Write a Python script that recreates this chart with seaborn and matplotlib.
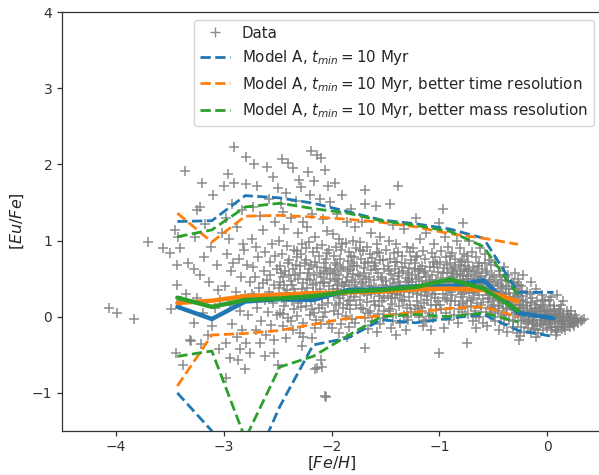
import matplotlib
matplotlib.use("Agg")
import matplotlib.pyplot as plt
import pandas as pd
import seaborn as sns


# observed stars: ([Fe/H], [Eu/Fe])
stars = [
    (-4.06, 0.12), (-3.99, 0.05), (-3.83, -0.03), (-3.70, 0.98), (-3.56, 0.90), (-3.50, 0.83),
    (-3.41, 0.90), (-3.43, 0.68), (-3.33, 0.70), (-3.43, 0.42), (-3.49, 0.10), (-3.44, -0.48),
    (-3.38, -0.63), (-3.31, -0.30), (-3.45, 1.14), (-3.42, 1.05), (-3.36, 1.91), (-3.35, 0.30),
    (-3.40, 0.20),
    (-3.28, -0.08), (-3.30, -0.32), (-3.21, -0.36), (-3.15, -0.24), (-3.25, 0.25), (-3.22, 0.55),
    (-3.18, 0.78), (-3.12, 0.92), (-3.27, 1.05), (-3.20, 1.75), (-3.22, 1.44), (-3.25, 1.40),
    (-3.10, 1.60), (-3.05, 0.35), (-3.08, 0.12), (-3.14, 0.45), (-3.04, -0.43), (-3.06, 0.68),
    (-3.17, 1.22), (-3.02, 1.10), (-3.28, 0.62), (-3.11, -0.12), (-3.03, 0.22), (-3.19, 0.05),
    (-2.90, 2.23), (-2.79, 2.10), (-2.96, 1.87), (-2.90, 1.76), (-2.79, 1.74), (-3.00, 1.72),
    (-2.92, 1.48), (-2.83, 1.40), (-2.98, 1.30), (-2.88, 1.18), (-2.95, 1.02), (-2.82, 0.95),
    (-2.97, 0.82), (-2.86, 0.76), (-2.78, 0.68), (-2.93, 0.60), (-2.84, 0.52), (-2.76, 0.45),
    (-2.99, 0.40), (-2.89, 0.33), (-2.80, 0.28), (-2.94, 0.15), (-2.85, 0.08), (-2.77, 0.02),
    (-2.92, -0.10), (-2.83, -0.18), (-2.88, -0.26), (-2.98, -0.35), (-2.85, -0.43), (-2.79, -0.34),
    (-2.76, -0.47), (-2.94, -0.54), (-2.87, -0.57), (-2.80, -0.69), (-2.98, -0.80), (-2.81, 0.88),
    (-2.91, 0.70),
    (-2.72, 2.00), (-2.60, 1.96), (-2.54, 1.84), (-2.69, 1.72), (-2.50, 1.69), (-2.73, 1.44),
    (-2.64, 1.14), (-2.58, 1.55), (-2.66, 1.32), (-2.52, 1.25), (-2.74, 1.02), (-2.70, 0.92),
    (-2.62, 0.85), (-2.55, 0.96), (-2.68, 0.78), (-2.57, 0.72), (-2.73, 0.65), (-2.63, 0.60),
    (-2.51, 0.63), (-2.71, 0.52), (-2.60, 0.48), (-2.53, 0.42), (-2.67, 0.38), (-2.58, 0.33),
    (-2.72, 0.27), (-2.62, 0.22), (-2.54, 0.18), (-2.69, 0.12), (-2.59, 0.06), (-2.51, 0.02),
    (-2.65, -0.05), (-2.56, -0.11), (-2.70, -0.17), (-2.61, -0.24), (-2.53, -0.30), (-2.62, -0.52),
    (-2.53, -0.48), (-2.50, -0.63), (-2.66, -0.35), (-2.57, 0.55), (-2.64, 0.44), (-2.52, 0.80),
    (-2.74, 0.30), (-2.55, 0.27),
    (-2.46, 2.07), (-2.40, 2.02), (-2.36, 1.95), (-2.45, 1.37), (-2.30, 1.80), (-2.42, 1.62),
    (-2.33, 1.52), (-2.28, 1.70), (-2.47, 1.48), (-2.38, 1.30), (-2.26, 1.25), (-2.44, 1.15),
    (-2.31, 1.10), (-2.49, 1.00), (-2.41, 0.93), (-2.35, 0.88), (-2.27, 0.95), (-2.46, 0.82),
    (-2.39, 0.75), (-2.32, 0.78), (-2.25, 0.70), (-2.48, 0.66), (-2.43, 0.60), (-2.36, 0.63),
    (-2.29, 0.57), (-2.45, 0.52), (-2.38, 0.47), (-2.31, 0.50), (-2.26, 0.44), (-2.49, 0.38),
    (-2.41, 0.35), (-2.34, 0.31), (-2.27, 0.36), (-2.46, 0.25), (-2.37, 0.20), (-2.30, 0.24),
    (-2.44, 0.14), (-2.35, 0.10), (-2.28, 0.13), (-2.48, 0.05), (-2.40, -0.02), (-2.32, 0.01),
    (-2.26, -0.08), (-2.45, -0.12), (-2.36, -0.18), (-2.29, -0.22), (-2.42, -0.28), (-2.27, -0.39),
    (-2.26, -0.26), (-2.33, 0.68), (-2.39, 0.55), (-2.44, 0.42), (-2.28, 0.82),
    (-2.19, 2.18), (-2.13, 2.12), (-2.10, 2.08), (-2.22, 1.90), (-2.06, 1.92), (-2.16, 1.78),
    (-2.03, 1.72), (-2.20, 1.60), (-2.11, 1.55), (-2.01, 1.50), (-2.18, 1.35), (-2.08, 1.28),
    (-2.23, 1.18), (-2.04, 1.12), (-2.15, 1.05), (-2.21, 0.98), (-2.09, 0.94), (-2.02, 0.88),
    (-2.17, 0.85), (-2.12, 0.80), (-2.05, 0.76), (-2.24, 0.74), (-2.19, 0.68), (-2.13, 0.65),
    (-2.07, 0.70), (-2.01, 0.62), (-2.22, 0.58), (-2.16, 0.55), (-2.10, 0.52), (-2.04, 0.56),
    (-2.20, 0.48), (-2.14, 0.44), (-2.08, 0.46), (-2.02, 0.40), (-2.23, 0.38), (-2.17, 0.33),
    (-2.11, 0.36), (-2.05, 0.30), (-2.21, 0.26), (-2.15, 0.22), (-2.09, 0.25), (-2.03, 0.18),
    (-2.24, 0.14), (-2.18, 0.10), (-2.12, 0.12), (-2.06, 0.06), (-2.20, 0.02), (-2.14, -0.04),
    (-2.08, -0.01), (-2.02, -0.09), (-2.15, -0.15), (-2.00, -0.15), (-2.13, -0.67), (-2.09, -0.66),
    (-2.15, -0.69), (-2.10, -0.57), (-2.06, -1.04), (-2.05, -1.06), (-2.18, -0.28), (-2.07, 0.60),
    (-2.13, 0.90),
    (-1.97, 1.75), (-1.90, 1.60), (-1.82, 1.42), (-1.95, 1.35), (-1.86, 1.25), (-1.78, 1.18),
    (-1.99, 1.08), (-1.93, 1.02), (-1.87, 0.97), (-1.80, 1.00), (-1.96, 0.92), (-1.91, 0.88),
    (-1.84, 0.85), (-1.77, 0.90), (-1.98, 0.80), (-1.92, 0.76), (-1.85, 0.73), (-1.79, 0.78),
    (-1.95, 0.68), (-1.89, 0.65), (-1.83, 0.62), (-1.76, 0.66), (-1.99, 0.58), (-1.93, 0.55),
    (-1.86, 0.52), (-1.80, 0.56), (-1.97, 0.47), (-1.90, 0.44), (-1.84, 0.42), (-1.78, 0.46),
    (-1.95, 0.37), (-1.88, 0.34), (-1.82, 0.31), (-1.76, 0.36), (-1.98, 0.27), (-1.92, 0.24),
    (-1.85, 0.21), (-1.79, 0.26), (-1.96, 0.16), (-1.89, 0.12), (-1.83, 0.10), (-1.77, 0.15),
    (-1.94, 0.04), (-1.87, 0.01), (-1.81, -0.03), (-1.91, -0.10), (-1.84, -0.14), (-1.78, -0.08),
    (-1.93, -0.22), (-1.86, -0.27), (-1.97, 0.60), (-1.81, 0.70), (-1.88, 0.40), (-1.94, 0.30),
    (-1.69, 1.66), (-1.69, 1.48), (-1.59, 1.45), (-1.72, 1.25), (-1.63, 1.10), (-1.55, 1.05),
    (-1.74, 0.98), (-1.67, 0.92), (-1.58, 0.95), (-1.71, 0.86), (-1.64, 0.82), (-1.56, 0.84),
    (-1.73, 0.76), (-1.66, 0.72), (-1.60, 0.70), (-1.52, 0.74), (-1.70, 0.64), (-1.63, 0.61),
    (-1.57, 0.58), (-1.51, 0.62), (-1.74, 0.54), (-1.68, 0.50), (-1.61, 0.48), (-1.54, 0.52),
    (-1.72, 0.43), (-1.65, 0.40), (-1.59, 0.38), (-1.52, 0.42), (-1.70, 0.33), (-1.63, 0.30),
    (-1.56, 0.27), (-1.74, 0.22), (-1.67, 0.19), (-1.60, 0.16), (-1.53, 0.20), (-1.71, 0.10),
    (-1.64, 0.07), (-1.57, 0.04), (-1.51, 0.08), (-1.69, -0.02), (-1.62, -0.06), (-1.55, -0.09),
    (-1.66, -0.16), (-1.58, -0.20), (-1.69, -0.41), (-1.73, 0.35), (-1.61, 0.66), (-1.55, 0.34),
    (-1.38, 1.71), (-1.46, 1.48), (-1.43, 1.20), (-1.33, 1.15), (-1.47, 1.00), (-1.40, 0.96),
    (-1.30, 0.92), (-1.49, 0.88), (-1.42, 0.84), (-1.35, 0.80), (-1.27, 0.85), (-1.46, 0.76),
    (-1.39, 0.72), (-1.32, 0.70), (-1.26, 0.74), (-1.48, 0.66), (-1.41, 0.62), (-1.34, 0.60),
    (-1.28, 0.64), (-1.45, 0.56), (-1.38, 0.53), (-1.31, 0.51), (-1.25, 0.55), (-1.49, 0.47),
    (-1.42, 0.44), (-1.36, 0.42), (-1.29, 0.45), (-1.46, 0.37), (-1.39, 0.35), (-1.33, 0.32),
    (-1.27, 0.36), (-1.48, 0.27), (-1.41, 0.24), (-1.35, 0.22), (-1.28, 0.26), (-1.44, 0.17),
    (-1.37, 0.14), (-1.30, 0.12), (-1.47, 0.07), (-1.40, 0.04), (-1.33, 0.02), (-1.26, 0.06),
    (-1.43, -0.05), (-1.36, -0.08), (-1.29, -0.04), (-1.40, -0.24), (-1.45, -0.15), (-1.31, -0.17),
    (-1.37, 0.58), (-1.44, 0.31),
    (-1.22, 1.30), (-1.12, 1.10), (-1.00, 1.23), (-1.18, 1.02), (-1.05, 0.95), (-1.24, 0.90),
    (-1.15, 0.86), (-1.07, 0.84), (-1.21, 0.80), (-1.13, 0.76), (-1.04, 0.78), (-1.23, 0.70),
    (-1.16, 0.67), (-1.09, 0.65), (-1.02, 0.69), (-1.20, 0.60), (-1.14, 0.57), (-1.07, 0.55),
    (-1.01, 0.59), (-1.22, 0.50), (-1.16, 0.47), (-1.10, 0.45), (-1.03, 0.48), (-1.19, 0.40),
    (-1.12, 0.38), (-1.06, 0.36), (-1.24, 0.32), (-1.17, 0.29), (-1.11, 0.27), (-1.04, 0.30),
    (-1.21, 0.21), (-1.14, 0.18), (-1.08, 0.16), (-1.01, 0.20), (-1.23, 0.10), (-1.16, 0.08),
    (-1.10, 0.05), (-1.03, 0.09), (-1.19, -0.01), (-1.12, -0.04), (-1.06, -0.02), (-1.15, -0.12),
    (-1.00, -0.48), (-1.08, -0.18), (-1.18, 0.63), (-1.05, 0.42), (-1.13, 0.33), (-1.20, 0.14),
    (-0.97, 1.41), (-0.78, 1.23), (-0.95, 1.05), (-0.84, 1.00), (-0.92, 0.92), (-0.81, 0.90),
    (-0.98, 0.86), (-0.88, 0.84), (-0.77, 0.82), (-0.94, 0.78), (-0.85, 0.76), (-0.79, 0.74),
    (-0.99, 0.72), (-0.90, 0.70), (-0.82, 0.68), (-0.76, 0.66), (-0.96, 0.64), (-0.87, 0.62),
    (-0.80, 0.60), (-0.93, 0.57), (-0.84, 0.55), (-0.78, 0.53), (-0.98, 0.51), (-0.89, 0.49),
    (-0.81, 0.47), (-0.75, 0.50), (-0.95, 0.44), (-0.86, 0.42), (-0.79, 0.40), (-0.91, 0.37),
    (-0.83, 0.35), (-0.77, 0.33), (-0.97, 0.30), (-0.88, 0.28), (-0.80, 0.26), (-0.93, 0.22),
    (-0.85, 0.20), (-0.78, 0.18), (-0.99, 0.15), (-0.90, 0.12), (-0.82, 0.10), (-0.76, 0.13),
    (-0.94, 0.05), (-0.86, 0.02), (-0.79, 0.06), (-0.91, -0.04), (-0.83, -0.08), (-0.74, -0.34),
    (-0.96, -0.15), (-0.87, 0.58), (-0.92, 0.46), (-0.81, 0.38), (-0.89, 0.32), (-0.77, 0.44),
    (-0.72, 1.00), (-0.62, 0.90), (-0.70, 0.85), (-0.58, 0.82), (-0.66, 0.78), (-0.54, 0.75),
    (-0.73, 0.72), (-0.63, 0.70), (-0.52, 0.68), (-0.69, 0.65), (-0.60, 0.63), (-0.74, 0.60),
    (-0.65, 0.58), (-0.56, 0.60), (-0.71, 0.55), (-0.61, 0.53), (-0.51, 0.55), (-0.68, 0.50),
    (-0.58, 0.48), (-0.73, 0.46), (-0.64, 0.44), (-0.54, 0.45), (-0.70, 0.41), (-0.60, 0.39),
    (-0.51, 0.40), (-0.67, 0.36), (-0.57, 0.34), (-0.72, 0.31), (-0.63, 0.29), (-0.53, 0.30),
    (-0.69, 0.25), (-0.59, 0.23), (-0.74, 0.20), (-0.65, 0.18), (-0.55, 0.19), (-0.71, 0.14),
    (-0.61, 0.12), (-0.52, 0.13), (-0.67, 0.08), (-0.57, 0.06), (-0.73, 0.03), (-0.63, 0.00),
    (-0.53, 0.02), (-0.69, -0.05), (-0.59, -0.08), (-0.66, -0.15), (-0.56, -0.12), (-0.62, 0.47),
    (-0.55, 0.37), (-0.68, 0.33), (-0.50, 0.22),
    (-0.48, 0.72), (-0.40, 0.65), (-0.30, 0.58), (-0.45, 0.60), (-0.36, 0.55), (-0.27, 0.50),
    (-0.49, 0.52), (-0.42, 0.48), (-0.33, 0.45), (-0.26, 0.42), (-0.46, 0.43), (-0.38, 0.40),
    (-0.30, 0.37), (-0.50, 0.36), (-0.43, 0.33), (-0.35, 0.31), (-0.28, 0.28), (-0.47, 0.28),
    (-0.39, 0.25), (-0.31, 0.22), (-0.25, 0.20), (-0.44, 0.21), (-0.36, 0.18), (-0.29, 0.15),
    (-0.49, 0.15), (-0.41, 0.12), (-0.33, 0.10), (-0.26, 0.08), (-0.46, 0.07), (-0.38, 0.04),
    (-0.30, 0.02), (-0.43, -0.01), (-0.35, -0.04), (-0.27, -0.06), (-0.48, -0.05), (-0.40, -0.10),
    (-0.32, -0.13), (-0.45, -0.18), (-0.37, -0.20), (-0.28, -0.22), (-0.41, 0.38), (-0.34, 0.26),
    (-0.45, 0.30), (-0.26, -0.30),
    (-0.22, 0.55), (-0.15, 0.45), (-0.24, 0.40), (-0.10, 0.36), (-0.19, 0.33), (-0.05, 0.28),
    (-0.23, 0.27), (-0.14, 0.24), (-0.02, 0.20), (-0.20, 0.19), (-0.11, 0.16), (-0.04, 0.13),
    (-0.24, 0.12), (-0.16, 0.10), (-0.08, 0.08), (-0.01, 0.06), (-0.21, 0.05), (-0.13, 0.03),
    (-0.06, 0.01), (-0.23, -0.01), (-0.17, -0.03), (-0.10, -0.04), (-0.03, -0.06), (-0.20, -0.08),
    (-0.14, -0.10), (-0.07, -0.11), (-0.24, -0.13), (-0.18, -0.15), (-0.11, -0.16), (-0.04, -0.17),
    (-0.21, -0.20), (-0.15, -0.22), (-0.08, -0.21), (-0.25, -0.25), (-0.12, 0.00), (-0.19, 0.08),
    (-0.06, 0.15), (-0.16, 0.30), (-0.09, 0.21), (-0.02, -0.02), (-0.22, 0.16), (-0.13, -0.06),
    (-0.10, -0.27),
    (0.09, 0.29), (0.15, 0.20), (0.02, 0.22), (0.06, 0.14), (0.12, 0.10), (0.18, 0.08),
    (0.01, 0.09), (0.04, 0.04), (0.08, 0.02), (0.13, 0.00), (0.20, -0.02), (0.25, -0.04),
    (0.03, -0.03), (0.07, -0.06), (0.11, -0.07), (0.16, -0.09), (0.22, -0.08), (0.28, -0.05),
    (0.32, -0.04), (0.02, -0.10), (0.05, -0.13), (0.10, -0.14), (0.14, -0.16), (0.21, -0.13),
    (0.04, -0.18), (0.09, -0.20), (0.17, -0.17), (0.24, -0.10), (0.31, -0.06), (0.06, 0.07),
    (0.12, 0.05), (0.19, 0.03), (0.01, 0.00), (0.15, -0.04), (0.26, 0.02), (0.08, -0.24),
    (0.13, 0.15), (0.22, 0.07), (0.03, 0.16),
]

# the crowded band along the median trend
stars_band = [
    (-2.47, 0.58), (-2.43, 0.31), (-2.40, 0.71), (-2.37, 0.42), (-2.34, 0.55), (-2.31, 0.18),
    (-2.29, 0.66), (-2.25, 0.29), (-2.23, 0.49), (-2.21, 0.63), (-2.19, 0.21), (-2.17, 0.41),
    (-2.15, 0.72), (-2.13, 0.30), (-2.11, 0.58), (-2.09, 0.15), (-2.07, 0.44), (-2.05, 0.64),
    (-2.03, 0.27), (-2.01, 0.50), (-2.45, 0.04), (-2.38, -0.06), (-2.32, 0.86), (-2.24, 0.90),
    (-2.16, 0.05), (-2.10, -0.10), (-2.04, 0.84), (-2.48, 0.46), (-2.42, 0.20), (-2.35, 0.37),
    (-1.99, 0.36), (-1.97, 0.70), (-1.95, 0.50), (-1.93, 0.18), (-1.91, 0.62), (-1.89, 0.29),
    (-1.87, 0.45), (-1.85, 0.60), (-1.83, 0.22), (-1.81, 0.48), (-1.79, 0.66), (-1.77, 0.32),
    (-1.75, 0.55), (-1.73, 0.12), (-1.71, 0.45), (-1.69, 0.70), (-1.67, 0.28), (-1.65, 0.52),
    (-1.63, 0.40), (-1.61, 0.20), (-1.59, 0.62), (-1.57, 0.35), (-1.55, 0.75), (-1.53, 0.50),
    (-1.51, 0.25), (-1.98, 0.08), (-1.90, 0.95), (-1.82, 0.80), (-1.74, 0.88), (-1.66, 0.05),
    (-1.58, 0.85), (-1.52, -0.02), (-1.94, 0.42), (-1.86, 0.16), (-1.78, 0.39), (-1.70, 0.58),
    (-1.62, 0.77), (-1.56, 0.14),
    (-1.49, 0.40), (-1.47, 0.60), (-1.45, 0.25), (-1.43, 0.50), (-1.41, 0.72), (-1.39, 0.30),
    (-1.37, 0.46), (-1.35, 0.65), (-1.33, 0.20), (-1.31, 0.40), (-1.29, 0.57), (-1.27, 0.15),
    (-1.25, 0.45), (-1.23, 0.62), (-1.21, 0.30), (-1.19, 0.52), (-1.17, 0.12), (-1.15, 0.40),
    (-1.13, 0.60), (-1.11, 0.22), (-1.09, 0.48), (-1.07, 0.30), (-1.05, 0.65), (-1.03, 0.15),
    (-1.01, 0.42), (-1.46, 0.10), (-1.38, 0.85), (-1.30, 0.00), (-1.22, 0.78), (-1.14, -0.06),
    (-1.06, 0.72), (-1.44, 0.38), (-1.36, 0.28), (-1.28, 0.48), (-1.20, 0.35), (-1.12, 0.52),
    (-1.04, 0.25),
    (-0.99, 0.40), (-0.97, 0.58), (-0.95, 0.25), (-0.93, 0.68), (-0.91, 0.48), (-0.89, 0.20),
    (-0.87, 0.52), (-0.85, 0.65), (-0.83, 0.42), (-0.81, 0.56), (-0.79, 0.30), (-0.77, 0.62),
    (-0.75, 0.40), (-0.73, 0.54), (-0.71, 0.22), (-0.69, 0.46), (-0.67, 0.60), (-0.65, 0.34),
    (-0.63, 0.52), (-0.61, 0.16), (-0.59, 0.43), (-0.57, 0.58), (-0.55, 0.28), (-0.53, 0.48),
    (-0.51, 0.10), (-0.98, 0.10), (-0.90, 0.80), (-0.82, 0.15), (-0.74, 0.80), (-0.66, 0.00),
    (-0.58, 0.70), (-0.52, 0.35), (-0.94, 0.35), (-0.86, 0.45), (-0.78, 0.48), (-0.70, 0.36),
    (-0.62, 0.40), (-0.54, 0.24), (-0.88, 0.60), (-0.80, 0.72), (-0.72, 0.62), (-0.64, 0.66),
    (-0.49, 0.32), (-0.47, 0.45), (-0.45, 0.14), (-0.43, 0.40), (-0.41, 0.25), (-0.39, 0.52),
    (-0.37, 0.10), (-0.35, 0.36), (-0.33, 0.20), (-0.31, 0.44), (-0.29, 0.05), (-0.27, 0.30),
    (-0.25, 0.12), (-0.23, 0.34), (-0.21, -0.04), (-0.48, 0.05), (-0.44, 0.55), (-0.40, 0.02),
    (-0.36, 0.47), (-0.32, -0.06), (-0.28, 0.40), (-0.24, 0.02), (-0.46, 0.24), (-0.42, 0.18),
    (-0.38, 0.30), (-0.34, 0.14), (-0.30, 0.26), (-0.26, 0.16), (-0.22, 0.22),
    (-0.19, 0.14), (-0.17, 0.02), (-0.15, 0.18), (-0.13, -0.08), (-0.11, 0.06), (-0.09, -0.12),
    (-0.07, 0.10), (-0.05, -0.04), (-0.03, 0.08), (-0.01, -0.10), (0.01, 0.04), (0.03, -0.08),
    (0.05, 0.02), (0.07, -0.14), (0.09, -0.02), (0.11, 0.08), (0.13, -0.10), (0.15, 0.02),
    (0.17, -0.05), (0.19, -0.11), (0.21, 0.00), (0.23, -0.06), (0.25, -0.12), (0.27, -0.02),
    (0.29, -0.08), (0.34, -0.03), (-0.18, -0.06), (-0.14, 0.06), (-0.10, 0.12), (-0.06, -0.08),
    (-0.02, 0.04), (0.02, -0.05), (0.06, 0.10), (0.10, 0.00), (0.14, -0.06), (0.18, 0.00),
    (0.22, -0.03), (0.26, -0.07), (0.00, -0.15), (0.08, -0.17), (0.16, -0.13), (-0.12, -0.18),
    (-0.04, 0.22), (0.04, 0.26),
]

# model bins in [Fe/H]
feh_bins = [-3.43, -3.11, -2.80, -2.48, -2.17, -1.85, -1.54, -1.22, -0.90, -0.59, -0.27, 0.06]

# Model A (t_min = 10 Myr): lower / median / upper
a_low = [-1.00, -1.50, -2.20, -1.18, -0.37, -0.28, -0.04, -0.08, -0.02, 0.03, -0.18, -0.26]
a_med = [0.13, -0.03, 0.20, 0.23, 0.22, 0.35, 0.36, 0.40, 0.40, 0.48, 0.05, -0.02]
a_up = [1.25, 1.26, 1.59, 1.56, 1.49, 1.38, 1.27, 1.22, 1.15, 1.03, 0.32, 0.32]

# better time resolution
t_low = [-0.91, -0.24, -0.22, -0.18, -0.10, -0.02, 0.01, 0.06, 0.11, 0.13, 0.00]
t_med = [0.18, 0.21, 0.27, 0.29, 0.31, 0.32, 0.33, 0.36, 0.37, 0.35, 0.20]
t_up = [1.36, 0.98, 1.32, 1.33, 1.31, 1.28, 1.24, 1.18, 1.09, 1.03, 0.95]

# better mass resolution
m_low = [-0.52, -0.45, -1.60, -0.66, -0.52, -0.25, 0.00, 0.03, 0.00, 0.05, -0.07]
m_med = [0.25, 0.13, 0.22, 0.24, 0.27, 0.33, 0.35, 0.39, 0.49, 0.37, 0.08]
m_up = [1.05, 1.14, 1.44, 1.49, 1.42, 1.36, 1.26, 1.20, 1.12, 0.92, 0.28]

labels = [
    r"Model A, $t_{min} = 10$ Myr",
    r"Model A, $t_{min} = 10$ Myr, better time resolution",
    r"Model A, $t_{min} = 10$ Myr, better mass resolution",
]
colors = ["#1f77b4", "#ff7f0e", "#2ca02c"]


def main():
    sns.set_theme(style="ticks")
    plt.rcParams.update({
        "font.family": ["DejaVu Sans"],
        "xtick.labelsize": 10,
        "ytick.labelsize": 10,
        "axes.labelsize": 11.5,
        "legend.fontsize": 10.8,
        "axes.linewidth": 0.9,
        "axes.edgecolor": "#333333",
        "xtick.color": "#333333",
        "ytick.color": "#333333",
        "xtick.major.size": 3.5,
        "ytick.major.size": 3.5,
        "xtick.major.width": 0.9,
        "ytick.major.width": 0.9,
        "xtick.major.pad": 3.0,
        "ytick.major.pad": 3.5,
    })

    df = pd.DataFrame(stars + stars_band, columns=["feh", "eufe"])

    fig = plt.figure(figsize=(5.99, 4.75), dpi=100)
    ax = fig.add_axes([62 / 599, 44 / 475, 539 / 599, 419 / 475])

    sns.scatterplot(data=df, x="feh", y="eufe", ax=ax, marker="+", color="gray",
                    s=42, linewidth=1.1, alpha=0.9, legend=False, zorder=1)

    models = [(a_low, a_med, a_up), (t_low, t_med, t_up), (m_low, m_med, m_up)]
    handles = []
    for (lo, med, up), lab, c in zip(models, labels, colors):
        n = len(med)
        sns.lineplot(x=feh_bins[:n], y=up, ax=ax, color=c, lw=2, linestyle="--",
                     sort=False, estimator=None, legend=False, zorder=3)
        sns.lineplot(x=feh_bins[:n], y=med, ax=ax, color=c, lw=3.2,
                     sort=False, estimator=None, legend=False, zorder=3)
        sns.lineplot(x=feh_bins[:n], y=lo, ax=ax, color=c, lw=2, linestyle="--",
                     sort=False, estimator=None, legend=False, zorder=3)
        handles.append(plt.Line2D([], [], color=c, lw=2, linestyle="--", label=lab))

    data_handle = plt.Line2D([], [], color="gray", marker="+", linestyle="none",
                             markersize=7, markeredgewidth=1.0, alpha=0.9, label="Data")
    ax.legend(handles=[data_handle] + handles, loc="upper right", frameon=True)

    ax.set_xlim(-4.5, 0.5)
    ax.set_ylim(-1.5, 4)
    ax.set_xticks([-4, -3, -2, -1, 0])
    ax.set_yticks([-1, 0, 1, 2, 3, 4])
    ax.set_xlabel(r"$[Fe/H]$", labelpad=0.5)
    ax.set_ylabel(r"$[Eu/Fe]$")

    fig.savefig("out.png", dpi=100)
    plt.close(fig)


if __name__ == "__main__":
    main()
